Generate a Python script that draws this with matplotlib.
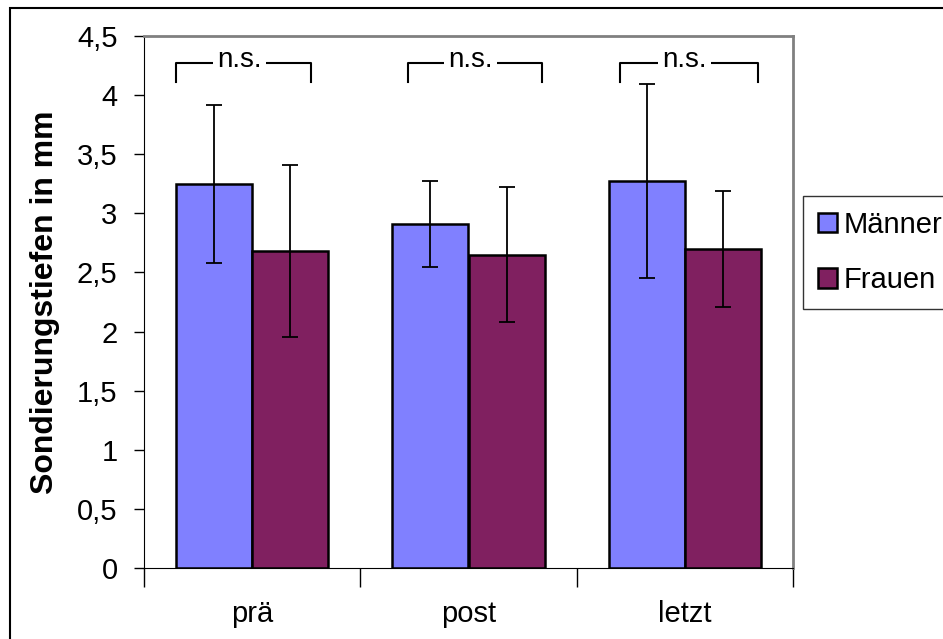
import numpy as np
import matplotlib.pyplot as plt
from matplotlib.patches import Rectangle

plt.rcParams['font.family'] = ['Liberation Sans', 'DejaVu Sans']

# data
zeitpunkte = ['prä', 'post', 'letzt']
maenner = [3.25, 2.91, 3.27]
maenner_err = [0.67, 0.36, 0.82]
frauen = [2.68, 2.65, 2.70]
frauen_err = [0.73, 0.57, 0.49]
yticks = [0, 0.5, 1, 1.5, 2, 2.5, 3, 3.5, 4, 4.5]
ytick_labels = ['0', '0,5', '1', '1,5', '2', '2,5', '3', '3,5', '4', '4,5']
# n.s. brackets (x from, x to) per group
ns_left = [-0.35, 0.72, 1.70]
ns_right = [0.27, 1.34, 2.34]
ns_y = 4.27
ns_drop = 0.16

fig = plt.figure(figsize=(9.43, 6.39), dpi=100)
ax = fig.add_axes([144/943, 1-568/639, (793-144)/943, (568-36)/639])

x = np.arange(len(zeitpunkte))
w = 76/216
ax.bar(x - w/2, maenner, w, color='#8080FF', edgecolor='black', linewidth=1.8,
       label='Männer', zorder=2)
ax.bar(x + w/2, frauen, w, color='#802060', edgecolor='black', linewidth=1.8,
       label='Frauen', zorder=2)
ax.errorbar(x - w/2, maenner, yerr=maenner_err, fmt='none', ecolor='black',
            elinewidth=1.3, capsize=5.8, capthick=1.3, zorder=3)
ax.errorbar(x + w/2, frauen, yerr=frauen_err, fmt='none', ecolor='black',
            elinewidth=1.3, capsize=5.8, capthick=1.3, zorder=3)

# n.s. brackets
for l, r in zip(ns_left, ns_right):
    ax.plot([l, l, r, r], [ns_y - ns_drop, ns_y, ns_y, ns_y - ns_drop],
            color='black', lw=1.5, clip_on=False, zorder=3)
    ax.text((l + r)/2 - 0.02, ns_y + 0.03, 'n.s.', ha='center', va='center',
            fontsize=20, zorder=4,
            bbox=dict(facecolor='white', edgecolor='none', pad=3))

ax.set_xlim(-0.5, 2.5)
ax.set_ylim(0, 4.5)
ax.set_yticks(yticks)
ax.set_yticklabels(ytick_labels, fontsize=21)
ax.set_xticks(x)
ax.set_xticklabels(zeitpunkte, fontsize=21)
ax.tick_params(axis='x', length=0, pad=23)
ax.set_xticks([-0.5, 0.5, 1.5, 2.5], minor=True)
ax.tick_params(axis='x', which='minor', length=14, width=1, color='black')
ax.tick_params(axis='y', length=7, width=1, direction='out', pad=12)
ax.set_ylabel('Sondierungstiefen in mm', fontsize=23, fontweight='bold', labelpad=12)

ax.spines['top'].set_color('#808080')
ax.spines['right'].set_color('#808080')
ax.spines['top'].set_linewidth(2)
ax.spines['right'].set_linewidth(2)
ax.spines['left'].set_color('black')
ax.spines['bottom'].set_color('black')

ax.legend(loc='upper left', bbox_to_anchor=(803/943, 1-196/639),
          bbox_transform=fig.transFigure, fontsize=21, frameon=True,
          fancybox=False, edgecolor='black', handlelength=0.65, handleheight=0.65,
          handletextpad=0.25, labelspacing=0.95, borderpad=0.5, borderaxespad=0)

# outer frame of the chart object
fig.patches.append(Rectangle((10/943, -0.5), 2, 1.5 - 8/639, transform=fig.transFigure,
                             fill=False, edgecolor='black', linewidth=1.5))

plt.savefig('out.png', dpi=100)
